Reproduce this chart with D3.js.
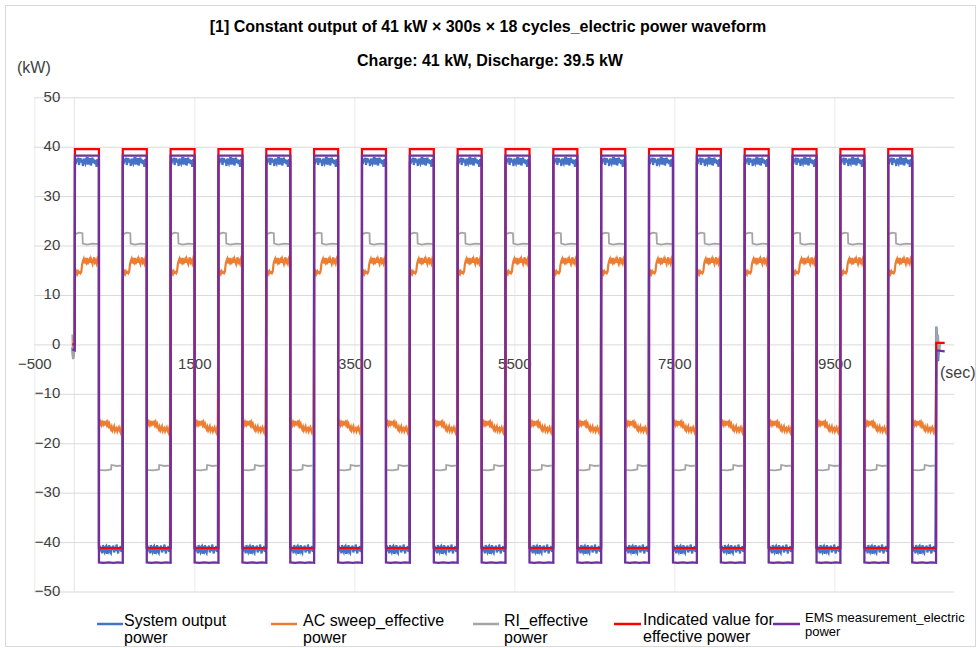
<!DOCTYPE html>
<html>
<head>
<meta charset="utf-8">
<script src="https://cdn.jsdelivr.net/npm/d3@7"></script>
<style>
  html, body { margin: 0; padding: 0; background: #fff; }
  svg { display: block; font-family: "Liberation Sans", Arial, sans-serif; }
</style>
</head>
<body>
<svg id="chart" width="977" height="648"></svg>
<script>
// ---- Chart text ----
const titleText = "[1] Constant output of 41 kW \u00d7 300s \u00d7 18 cycles_electric power waveform";
const subtitleText = "Charge: 41 kW, Discharge: 39.5 kW";
const yUnit = "(kW)";
const xUnit = "(sec)";

// ---- Axis ticks ----
const xTicks = [-500, 1500, 3500, 5500, 7500, 9500];
const yTicks = [-50, -40, -30, -20, -10, 0, 10, 20, 30, 40, 50];

// ---- Cycle timing (sec): start of each discharge phase, 18 cycles ----
const cycleStart = [8, 606, 1204, 1802, 2400, 2998, 3596, 4194, 4792, 5390,
                    5988, 6586, 7184, 7782, 8380, 8978, 9576, 10174];
const dischargeSec = 300;
const chargeSec = 298;
const sampleSec = 10;

// ---- Series names (legend, two lines each) ----
const seriesNames = [
  ["System output", "power"],
  ["AC sweep_effective", "power"],
  ["RI_effective", "power"],
  ["Indicated value for", "effective power"],
  ["EMS measurement_electric", "power"]
];

// ---- System output power (kW), 10 s samples within a phase ----
const systemDischarge = [37.0, 36.5, 37.6, 36.9, 37.8, 36.3, 37.2, 37.7, 36.8, 37.4, 36.1,
                         37.6, 37.0, 36.6, 37.5, 37.9, 36.4, 37.3, 36.9, 37.7, 36.2,
                         37.1, 37.8, 36.7, 37.4, 36.5, 37.3, 35.9, 37.5, 36.8, 37.1];
const systemCharge = [-41.3, -40.7, -41.9, -41.1, -42.3, -40.6, -41.6, -42.0, -41.0, -40.8,
                      -42.4, -41.4, -41.8, -40.6, -41.9, -42.2, -40.9, -41.6, -40.7, -42.1,
                      -41.2, -41.8, -40.5, -41.4, -42.3, -41.0, -41.7, -40.8, -42.0, -41.5];
const systemPre = [[-25, -0.6], [-15, -2.9], [-5, -1.0], [5, -0.8]];
const systemPost = [[10776, 3.6], [10788, -0.5], [10798, -3.4], [10812, 0.2]];

// ---- AC sweep_effective power (kW), 10 s samples within a phase ----
const acDischarge = [13.4, 14.2, 14.7, 14.3, 14.8, 14.5, 14.6, 14.4, 14.7, 16.2, 16.9,
                     17.3, 16.4, 17.0, 16.6, 17.5, 16.2, 16.9, 17.2, 16.5, 17.3,
                     16.8, 16.3, 17.1, 17.6, 16.6, 16.9, 16.4, 17.2, 16.7, 16.8];
const acCharge = [-15.4, -16.1, -15.7, -16.3, -15.8, -16.2, -15.5, -16.4, -15.9, -15.7,
                  -16.3, -15.8, -16.5, -16.1, -16.8, -17.2, -16.7, -17.4, -17.0, -16.6,
                  -17.5, -17.1, -16.9, -17.6, -17.2, -16.8, -17.4, -17.8, -17.0, -17.3];
const acPre = [[-25, 0.0], [5, 0.0]];
const acPost = [[10776, 0.0], [10812, 0.0]];

// ---- RI_effective power (kW): [sec into phase, value] ----
const riDischarge = [[0, 22.5], [20, 22.4], [50, 22.6], [94, 22.5], [98, 20.4],
                     [150, 20.2], [220, 20.4], [300, 20.3]];
const riCharge = [[0, -25.4], [80, -25.5], [152, -25.3], [156, -24.4],
                  [220, -24.6], [298, -24.5]];
const riPre = [[-25, 2.0], [-18, -3.0], [-10, 1.5], [-3, -2.5], [5, 0.5]];
const riPost = [[10776, 3.5], [10788, -3.2], [10798, 2.0], [10812, -1.5], [10828, 0.5]];

// ---- Indicated value for effective power (kW) ----
const indDischarge = [[0, 39.5], [300, 39.5]];
const indCharge = [[0, -41.2], [298, -41.2]];
const indPre = [[-25, 0.0], [5, 0.0]];
const indPost = [[10774, 0.3], [10880, 0.3]];

// ---- EMS measurement_electric power (kW) ----
const emsDischarge = [[0, 38.2], [300, 38.2]];
const emsCharge = [[0, -44.1], [60, -44.2], [120, -44.1], [180, -44.2],
                   [240, -44.1], [298, -44.2]];
const emsPre = [[-25, -1.0], [5, -1.2]];
const emsPost = [[10774, -1.2], [10880, -1.4]];

const colors = ["#4472C4", "#ED7D31", "#A5A5A5", "#FF0000", "#7030A0"];
const widths = [2.2, 2.2, 1.8, 2.2, 2.3];

// ---- Build the time series ----
function sampled(values) { return values.map((v, i) => [i * sampleSec, v]); }
function buildSeries(pre, dis, chg, post) {
  const pts = pre.slice();
  cycleStart.forEach(s => {
    dis.forEach(([o, v]) => pts.push([s + o, v]));
    chg.forEach(([o, v]) => pts.push([s + dischargeSec + o, v]));
  });
  post.forEach(p => pts.push(p));
  return pts;
}
const series = [
  buildSeries(systemPre, sampled(systemDischarge), sampled(systemCharge), systemPost),
  buildSeries(acPre, sampled(acDischarge), sampled(acCharge), acPost),
  buildSeries(riPre, riDischarge, riCharge, riPost),
  buildSeries(indPre, indDischarge, indCharge, indPost),
  buildSeries(emsPre, emsDischarge, emsCharge, emsPost)
];

// ---- Layout ----
const svg = d3.select("#chart");
const W = 977, H = 648;
const plot = { left: 34.3, right: 954.3, top: 97.3, bottom: 591.5 };

svg.append("rect").attr("x", 0).attr("y", 0).attr("width", W).attr("height", H).attr("fill", "#fff");
svg.append("rect").attr("x", 5.5).attr("y", 5.5).attr("width", 970).attr("height", 641)
  .attr("fill", "none").attr("stroke", "#d9d9d9").attr("stroke-width", 1);

const x = d3.scaleLinear().domain([-500, 11000]).range([plot.left, plot.right]);
const y = d3.scaleLinear().domain([-50, 50]).range([plot.bottom, plot.top]);

// vertical gridlines
const xGrid = svg.append("g")
  .attr("transform", `translate(0,${plot.bottom})`)
  .call(d3.axisBottom(x).tickValues(xTicks).tickSize(-(plot.bottom - plot.top)).tickFormat(""));
xGrid.select(".domain").remove();
xGrid.selectAll("line").attr("stroke", "#ebebeb").attr("stroke-width", 1);

// vertical axis line at x = 0
svg.append("line")
  .attr("x1", x(0)).attr("x2", x(0)).attr("y1", plot.top).attr("y2", plot.bottom)
  .attr("stroke", "#e3e3e3").attr("stroke-width", 1);

// horizontal gridlines + y labels
const yAxis = svg.append("g")
  .attr("transform", `translate(${plot.left},0)`)
  .call(d3.axisLeft(y).tickValues(yTicks).tickSize(-(plot.right - plot.left)).tickFormat(d3.format("d")));
yAxis.select(".domain").remove();
yAxis.selectAll("line").attr("stroke", "#d9d9d9").attr("stroke-width", 1);
yAxis.selectAll("text")
  .attr("x", 26).attr("dy", 0).attr("y", 4)
  .attr("text-anchor", "end")
  .attr("fill", "#404040").attr("font-size", 15)
  .attr("font-family", "'Liberation Sans', Arial, sans-serif");

// x labels along the zero line
const xAxis = svg.append("g")
  .attr("transform", `translate(0,${y(0)})`)
  .call(d3.axisBottom(x).tickValues(xTicks).tickSize(0).tickFormat(d3.format("d")));
xAxis.select(".domain").remove();
xAxis.selectAll("text")
  .attr("y", 24.5).attr("dy", 0)
  .attr("fill", "#404040").attr("font-size", 15)
  .attr("font-family", "'Liberation Sans', Arial, sans-serif");

// ---- Series lines ----
const line = d3.line().x(d => x(d[0])).y(d => y(d[1]));
svg.append("g").selectAll("path").data(series).join("path")
  .attr("d", d => line(d))
  .attr("fill", "none")
  .attr("stroke", (d, i) => colors[i])
  .attr("stroke-width", (d, i) => widths[i])
  .attr("stroke-linejoin", "miter");

// ---- Titles and units ----
svg.append("text").attr("x", 488).attr("y", 32).attr("text-anchor", "middle")
  .attr("font-weight", "bold").attr("font-size", 16).attr("fill", "#000").text(titleText);
svg.append("text").attr("x", 490).attr("y", 66).attr("text-anchor", "middle")
  .attr("font-weight", "bold").attr("font-size", 16).attr("fill", "#000").text(subtitleText);
svg.append("text").attr("x", 17).attr("y", 73).attr("font-size", 16).attr("fill", "#404040").text(yUnit);
svg.append("text").attr("x", 940).attr("y", 378).attr("font-size", 16).attr("fill", "#404040").text(xUnit);

// ---- Legend ----
const legendPos = [
  { x0: 97, x1: 123, tx: 124, b1: 626, b2: 643, fs: 16 },
  { x0: 271, x1: 297, tx: 303, b1: 626, b2: 643, fs: 16 },
  { x0: 473, x1: 499, tx: 504, b1: 626, b2: 643, fs: 16 },
  { x0: 614, x1: 641, tx: 643, b1: 625, b2: 642, fs: 16 },
  { x0: 773, x1: 800, tx: 805, b1: 622, b2: 636, fs: 13 }
];
const legend = svg.append("g").selectAll("g").data(seriesNames).join("g");
legend.append("line")
  .attr("x1", (d, i) => legendPos[i].x0).attr("x2", (d, i) => legendPos[i].x1)
  .attr("y1", 624).attr("y2", 624)
  .attr("stroke", (d, i) => colors[i]).attr("stroke-width", 2.5);
legend.append("text")
  .attr("x", (d, i) => legendPos[i].tx).attr("y", (d, i) => legendPos[i].b1)
  .attr("font-size", (d, i) => legendPos[i].fs).attr("fill", "#000").text(d => d[0]);
legend.append("text")
  .attr("x", (d, i) => legendPos[i].tx).attr("y", (d, i) => legendPos[i].b2)
  .attr("font-size", (d, i) => legendPos[i].fs).attr("fill", "#000").text(d => d[1]);
</script>
</body>
</html>
